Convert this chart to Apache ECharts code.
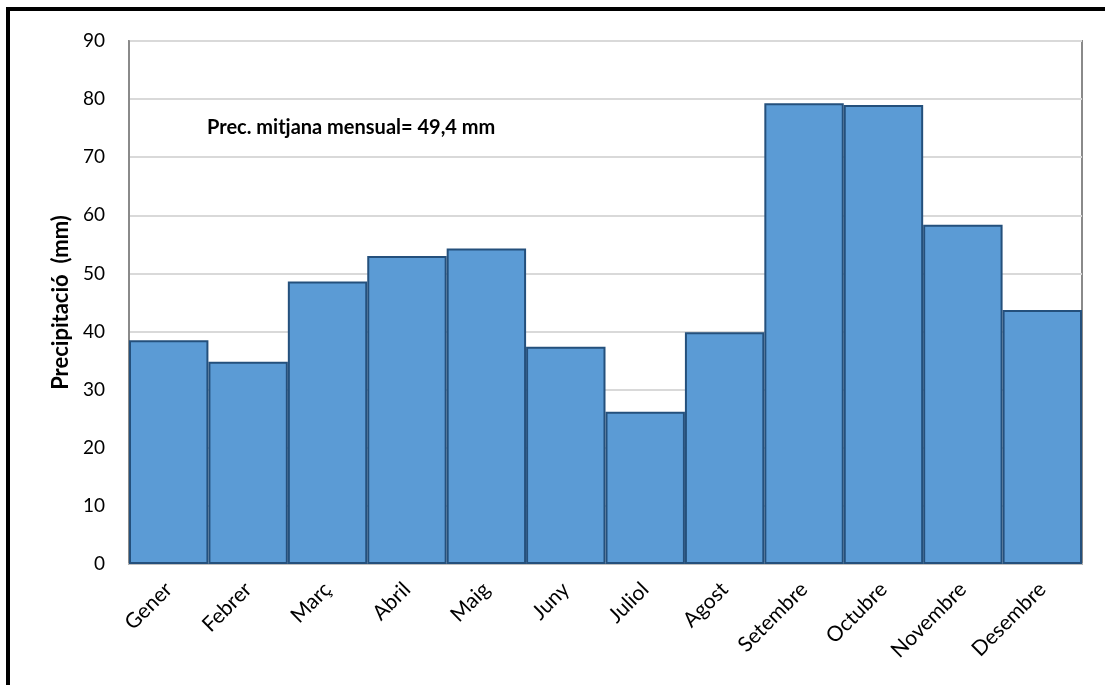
<!DOCTYPE html>
<html>
<head>
<meta charset="utf-8">
<script src="https://cdn.jsdelivr.net/npm/echarts@6/dist/echarts.min.js"></script>
<style>
  html, body { margin: 0; padding: 0; background: #fff; }
  #chart { width: 1105px; height: 685px; }
</style>
</head>
<body>
<div id="chart"></div>
<script>
// Monthly mean precipitation (mm)
const months = ['Gener', 'Febrer', 'Març', 'Abril', 'Maig', 'Juny', 'Juliol', 'Agost', 'Setembre', 'Octubre', 'Novembre', 'Desembre'];
const precipitation = [38.5, 34.8, 48.6, 53.0, 54.3, 37.4, 26.2, 39.9, 79.3, 79.0, 58.4, 43.7];
const yTicks = { min: 0, max: 90, step: 10 };

// Mean of the monthly values, written with a decimal comma
const mean = precipitation.reduce((a, b) => a + b, 0) / precipitation.length;
const meanText = 'Prec. mitjana mensual= ' + mean.toFixed(1).replace('.', ',') + ' mm';

const FONT = 'Lato, "Open Sans", "Liberation Sans", sans-serif';

const chart = echarts.init(document.getElementById('chart'), null, { renderer: 'canvas' });
chart.setOption({
  animation: false,
  backgroundColor: '#ffffff',
  grid: {
    left: 129, right: 23, top: 41, bottom: 121,
    show: true, borderColor: '#8a8a8a', borderWidth: 2, backgroundColor: 'transparent'
  },
  xAxis: {
    type: 'category',
    data: months,
    axisTick: { show: false },
    axisLine: { show: true, lineStyle: { color: '#bfbfbf', width: 2 } },
    axisLabel: {
      rotate: 45, interval: 0, margin: 22,
      color: '#000', fontSize: 21, fontFamily: FONT
    }
  },
  yAxis: {
    type: 'value',
    min: yTicks.min, max: yTicks.max, interval: yTicks.step,
    name: 'Precipitació  (mm)',
    nameLocation: 'middle',
    nameGap: 55,
    nameRotate: 90,
    nameTextStyle: { color: '#000', fontSize: 22, fontWeight: 'bold', fontFamily: FONT },
    axisLine: { show: true, lineStyle: { color: '#8a8a8a', width: 2 } },
    axisTick: { show: false },
    axisLabel: { color: '#000', fontSize: 19, margin: 24, fontFamily: FONT },
    splitLine: { show: true, lineStyle: { color: '#d9d9d9', width: 2 } }
  },
  series: [{
    type: 'bar',
    data: precipitation,
    barCategoryGap: '0%',
    itemStyle: { color: '#5b9bd5', borderColor: '#24507c', borderWidth: 2 }
  }],
  graphic: [
    {
      type: 'text',
      left: 207, top: 118,
      style: { text: meanText, fill: '#000', font: 'bold 20px ' + FONT }
    },
    {
      type: 'polyline',
      shape: { points: [[8, 685], [8, 9], [1105, 9]] },
      style: { stroke: '#000', lineWidth: 4, fill: null }
    }
  ]
});
</script>
</body>
</html>
